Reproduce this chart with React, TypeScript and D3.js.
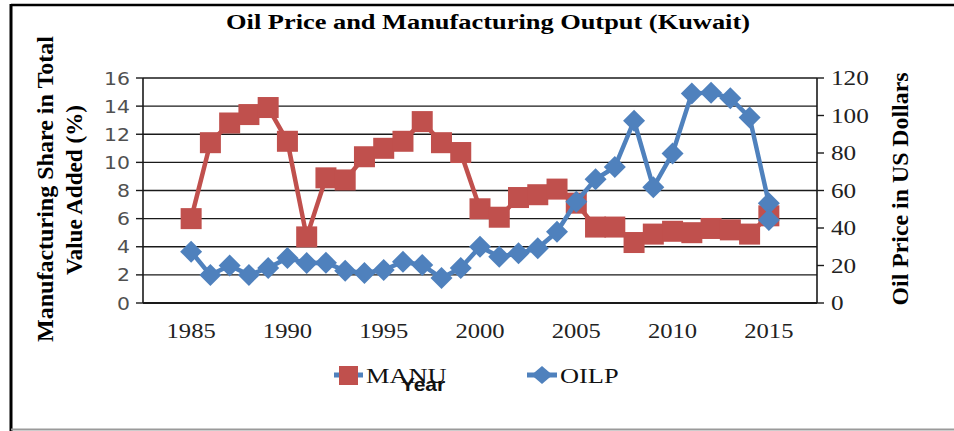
import React from 'react';
import { scaleLinear, line } from 'd3';

const W = 954;
const H = 431;

// data
const years = [1985, 1986, 1987, 1988, 1989, 1990, 1991, 1992, 1993, 1994, 1995, 1996, 1997, 1998, 1999, 2000,
    2001, 2002, 2003, 2004, 2005, 2006, 2007, 2008, 2009, 2010, 2011, 2012, 2013, 2014, 2015];
const manu = [6.0, 11.4, 12.8, 13.4, 13.9, 11.5, 4.7, 8.9, 8.75, 10.4, 11.0, 11.5, 12.9, 11.4, 10.7, 6.7,
    6.1, 7.5, 7.7, 8.1, 7.1, 5.4, 5.4, 4.3, 4.9, 5.1, 5.0, 5.3, 5.2, 4.9, 6.2];
// the last year shows two OILP markers
const oilYears = [1985, 1986, 1987, 1988, 1989, 1990, 1991, 1992, 1993, 1994, 1995, 1996, 1997, 1998, 1999, 2000,
    2001, 2002, 2003, 2004, 2005, 2006, 2007, 2008, 2009, 2010, 2011, 2012, 2013, 2014, 2015, 2015];
const oilp = [27.4, 14.9, 20, 15, 18.7, 24, 21.3, 21.5, 17.2, 16, 17.6, 22, 20.3, 13.3, 18.7, 30,
    24.7, 26.5, 29.2, 38, 54, 66, 72.5, 97.2, 61.7, 79.8, 111.8, 112.2, 109.2, 99, 53.2, 44.3];
const xTicks = [1985, 1990, 1995, 2000, 2005, 2010, 2015];
const leftTicks = [0, 2, 4, 6, 8, 10, 12, 14, 16];
const rightTicks = [0, 20, 40, 60, 80, 100, 120];

const RED = '#C0504D';
const BLUE = '#4F81BD';
const SERIF = '"Liberation Serif", "Times New Roman", serif';
const SX = 1.2; // text in the picture is stretched sideways

const plot = { left: 143, right: 817, top: 78, bottom: 303 };

const App = () => {
    const x = scaleLinear().domain([1982.5, 2017.5]).range([plot.left, plot.right]);
    const yL = scaleLinear().domain([0, 16]).range([plot.bottom, plot.top]);
    const yR = scaleLinear().domain([0, 120]).range([plot.bottom, plot.top]);

    const manuLine = line<number>().x((d, i) => x(years[i])).y(d => yL(d));
    const oilLine = line<number>().x((d, i) => x(oilYears[i])).y(d => yR(d));

    const sq = 10.5;
    const dia = 11;
    const diamond = (cx: number, cy: number, w: number, h: number) =>
        `M${cx},${cy - h}L${cx + w},${cy}L${cx},${cy + h}L${cx - w},${cy}Z`;

    const stretched = (tx: number, ty: number, props: any, txt: string) => (
        <g transform={`translate(${tx},${ty}) scale(${SX},1)`}>
            <text x={0} y={0} {...props}>{txt}</text>
        </g>
    );

    return (
        <svg width={W} height={H} style={{ position: 'absolute', left: 0, top: 0, background: '#fff' }}>
            {/* frame */}
            <line x1={11} x2={W} y1={5} y2={5} stroke="#000" strokeWidth={2.5} />
            <line x1={11} x2={11} y1={4} y2={H} stroke="#000" strokeWidth={3} />
            <line x1={11} x2={W} y1={429.5} y2={429.5} stroke="#9a9a9a" strokeWidth={2} />

            {/* title */}
            {stretched(488, 29, { fontFamily: SERIF, fontWeight: 'bold', fontSize: 22, textAnchor: 'middle' },
                'Oil Price and Manufacturing Output (Kuwait)')}

            {/* gridlines */}
            {leftTicks.map(t => (
                <line key={'g' + t} x1={plot.left} x2={plot.right} y1={yL(t)} y2={yL(t)}
                    stroke="#1a1a1a" strokeWidth={t === 0 ? 2 : 1.4} />
            ))}
            <line x1={plot.left} x2={plot.left} y1={plot.top} y2={plot.bottom} stroke="#1a1a1a" strokeWidth={1.6} />
            <line x1={plot.right} x2={plot.right} y1={plot.top} y2={plot.bottom} stroke="#1a1a1a" strokeWidth={1.6} />

            {/* left axis */}
            {leftTicks.map(t => (
                <g key={'l' + t}>
                    <line x1={plot.left - 7} x2={plot.left} y1={yL(t)} y2={yL(t)} stroke="#1a1a1a" strokeWidth={1.4} />
                    {stretched(130, yL(t) + 6.5, {
                        fontFamily: '"DejaVu Sans", sans-serif', fontSize: 17, fill: '#505050', textAnchor: 'end'
                    }, String(t))}
                </g>
            ))}

            {/* right axis */}
            {rightTicks.map(t => (
                <g key={'r' + t}>
                    <line x1={plot.right} x2={plot.right + 7} y1={yR(t)} y2={yR(t)} stroke="#1a1a1a" strokeWidth={1.4} />
                    {stretched(831, yR(t) + 7, { fontFamily: SERIF, fontSize: 21, fill: '#222' }, String(t))}
                </g>
            ))}

            {/* x labels */}
            {xTicks.map(t => (
                <g key={'x' + t}>
                    {stretched(x(t), 338, { fontFamily: SERIF, fontSize: 20.5, fill: '#222', textAnchor: 'middle' }, String(t))}
                </g>
            ))}

            {/* axis titles */}
            <text transform="translate(53,189) rotate(-90)" fontFamily={SERIF} fontWeight="bold" fontSize={23.5}
                textAnchor="middle" textLength={306} lengthAdjust="spacingAndGlyphs">Manufacturing Share in Total</text>
            <text transform="translate(82,190) rotate(-90)" fontFamily={SERIF} fontWeight="bold" fontSize={23.5}
                textAnchor="middle" textLength={170} lengthAdjust="spacingAndGlyphs">Value Added (%)</text>
            <text transform="translate(908,189) rotate(-90)" fontFamily={SERIF} fontWeight="bold" fontSize={23.5}
                textAnchor="middle" textLength={233} lengthAdjust="spacingAndGlyphs">Oil Price in US Dollars</text>

            {/* MANU series */}
            <path d={manuLine(manu) || ''} fill="none" stroke={RED} strokeWidth={4.5} strokeLinejoin="round" />
            {manu.map((v, i) => (
                <rect key={'m' + i} x={x(years[i]) - sq} y={yL(v) - sq} width={sq * 2} height={sq * 2} fill={RED} />
            ))}

            {/* OILP series */}
            <path d={oilLine(oilp) || ''} fill="none" stroke={BLUE} strokeWidth={4.5} strokeLinejoin="round" />
            {oilp.map((v, i) => (
                <path key={'o' + i} d={diamond(x(oilYears[i]), yR(v), dia, dia)} fill={BLUE} />
            ))}

            {/* legend */}
            <line x1={334} x2={363} y1={375} y2={375} stroke={BLUE} strokeWidth={5} />
            <rect x={339} y={366} width={19} height={19} fill={RED} />
            {stretched(366, 383, { fontFamily: SERIF, fontSize: 22, fill: '#111' }, 'MANU')}
            <line x1={527} x2={557} y1={375} y2={375} stroke={BLUE} strokeWidth={5} />
            <path d={diamond(542, 375, 10.5, 9)} fill={BLUE} />
            {stretched(560, 383, { fontFamily: SERIF, fontSize: 22, fill: '#111' }, 'OILP')}
            {/* the reference draws the axis title "Year" on top of the legend */}
            {stretched(423, 391, {
                fontFamily: '"Liberation Sans", Arial, sans-serif', fontWeight: 'bold', fontSize: 17.5,
                fill: '#111', textAnchor: 'middle'
            }, 'Year')}
        </svg>
    );
};

export default App;
